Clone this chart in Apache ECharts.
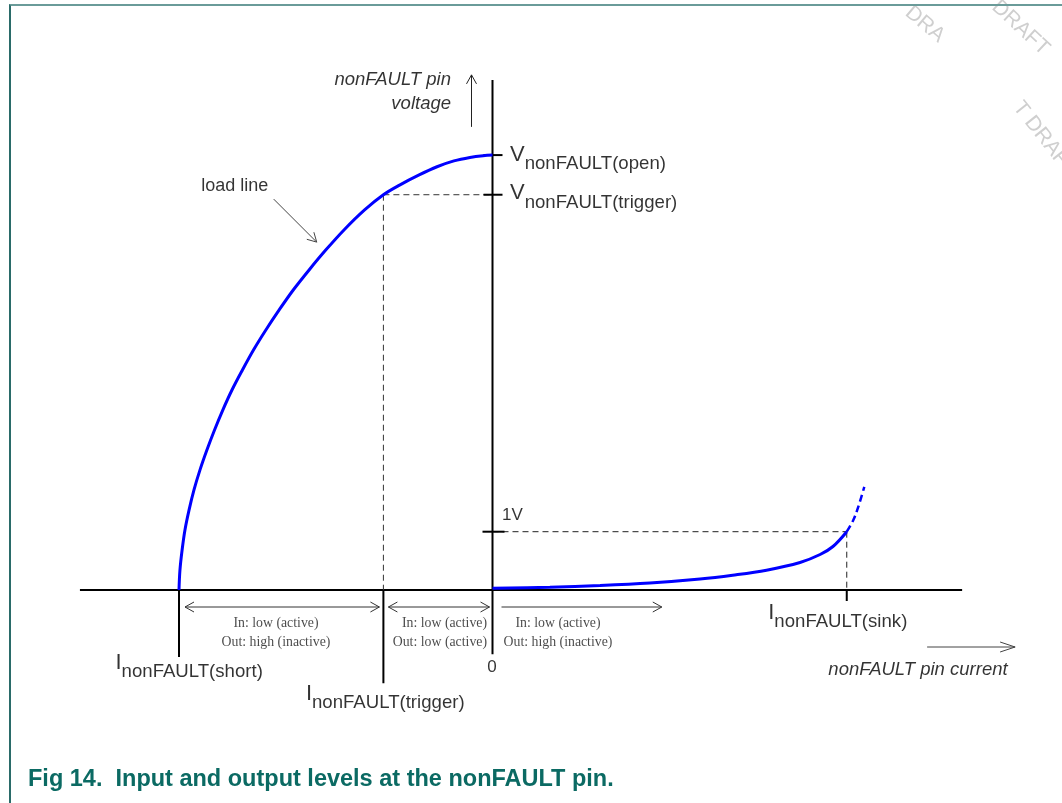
<!DOCTYPE html>
<html><head><meta charset="utf-8">
<script src="https://cdn.jsdelivr.net/npm/echarts@6/dist/echarts.min.js"></script>
<style>
html,body{margin:0;padding:0;background:#fff;}
#chart{width:1062px;height:803px;position:absolute;left:0;top:0;}
#frame{position:absolute;left:9px;top:4px;right:0;bottom:0;border-left:2px solid #2a6b69;border-top:2px solid #6a9b99;pointer-events:none;}
</style></head><body>
<div id="chart"></div><div id="frame"></div>
<script>
// ---------------- data ----------------
const xMarkLabels = ['I|nonFAULT(short)', 'I|nonFAULT(trigger)', '0', 'I|nonFAULT(sink)'];
const xMarkValues = [-10, -3.48, 0, 11.3];
const yMarkLabels = ['V|nonFAULT(open)', 'V|nonFAULT(trigger)', '1V'];
const yMarkValues = [7.46, 6.78, 1];
const loadLineCurrent = [-10, -9.97, -9.90, -9.81, -9.68, -9.52, -9.33, -9.11, -8.87, -8.60, -8.31, -7.98, -7.62, -7.23, -6.81, -6.35, -5.85, -5.32, -4.73, -4.08, -3.48, -2.95, -2.34, -1.77, -1.23, -0.72, -0.30, 0];
const loadLineVoltage = [0, 0.34, 0.69, 1.03, 1.37, 1.72, 2.06, 2.40, 2.74, 3.09, 3.43, 3.77, 4.12, 4.46, 4.80, 5.15, 5.49, 5.83, 6.18, 6.52, 6.78, 6.95, 7.12, 7.26, 7.36, 7.42, 7.45, 7.46];
const sinkCurrent = [0, 1.83, 3.43, 5.02, 6.62, 7.66, 8.74, 9.81, 10.45, 10.86, 11.30];
const sinkVoltage = [0.031, 0.048, 0.077, 0.12, 0.189, 0.254, 0.34, 0.472, 0.609, 0.746, 1.0];
const sinkExtCurrent = [11.30, 11.51, 11.67, 11.86];
const sinkExtVoltage = [1.0, 1.20, 1.43, 1.77];
const regionTexts = ['In: low (active)\nOut: high (inactive)', 'In: low (active)\nOut: low (active)', 'In: low (active)\nOut: high (inactive)'];
const regionEnd = [5.4];
const axisNames = ['nonFAULT pin\nvoltage', 'nonFAULT pin current'];
const axisExtentX = [-13.16, 14.98];
const axisExtentY = [-1.1, 8.75];
const captionText = 'Fig 14.  Input and output levels at the nonFAULT pin.';

// ---------------- helpers ----------------
const zip = (a, b) => a.map((v, i) => [v, b[i]]);
const SANS = 'Liberation Sans, Arial, sans-serif';
const SERIF = 'Liberation Serif, Times New Roman, serif';
const [I_SHORT, I_TRIG, I_ZERO, I_SINK] = xMarkValues;
const [V_OPEN, V_TRIG, V_ONE] = yMarkValues;
const PTR = 17; // load-line point the "load line" pointer refers to

function seg(points, color, width, dash, z) {
  return { type: 'line', data: points, symbol: 'none', silent: true, z: z || 2,
    lineStyle: { color: color, width: width, type: dash || 'solid', cap: 'butt' }, animation: false };
}
const DASH = [6, 4];
const segments = [
  seg([[axisExtentX[0], 0], [axisExtentX[1], 0]], '#000', 2),
  seg([[0, axisExtentY[0]], [0, axisExtentY[1]]], '#000', 2),
  seg([[I_SHORT, 0], [I_SHORT, -1.15]], '#000', 2),
  seg([[I_TRIG, 0], [I_TRIG, -1.6]], '#000', 2),
  seg([[I_SINK, 0], [I_SINK, -0.19]], '#000', 2),
  seg([[I_TRIG, V_TRIG], [I_TRIG, 0]], '#333', 1, DASH),
  seg([[I_TRIG, V_TRIG], [0, V_TRIG]], '#333', 1, DASH),
  seg([[0, V_ONE], [I_SINK, V_ONE]], '#222', 1, DASH),
  seg([[I_SINK, V_ONE], [I_SINK, 0]], '#222', 1, DASH)
];

// arrows & ticks (pixel offsets applied to data anchors)
const ptrPoint = [loadLineCurrent[PTR], loadLineVoltage[PTR]];
const arrowSpecs = [
  { a: [I_SHORT, 0], b: [I_TRIG, 0], off: [6, 17, -4, 17], heads: [1, 1], len: 9, half: 5, color: '#333', width: 1 },
  { a: [I_TRIG, 0], b: [0, 0], off: [5, 17, -3, 17], heads: [1, 1], len: 9, half: 5, color: '#333', width: 1 },
  { a: [0, 0], b: [regionEnd[0], 0], off: [9, 17, 0, 17], heads: [0, 1], len: 9, half: 5, color: '#333', width: 1 },
  { a: [0, axisExtentY[1]], b: [0, axisExtentY[1]], off: [-21, 47, -21, -5], heads: [0, 1], len: 9, half: 5, color: '#222', width: 1 },
  { a: [axisExtentX[1], 0], b: [axisExtentX[1], 0], off: [-35, 57, 53, 57], heads: [0, 1], len: 15, half: 5, color: '#444', width: 1 },
  { a: ptrPoint, b: ptrPoint, off: [-52, -51, -9, -8], heads: [0, 1], len: 9, half: 5, color: '#444', width: 1 },
  { a: [0, V_OPEN], b: [0, V_OPEN], off: [-9, 0, 10, 0], heads: [0, 0], color: '#000', width: 2 },
  { a: [0, V_TRIG], b: [0, V_TRIG], off: [-9, 0, 10, 0], heads: [0, 0], color: '#000', width: 2 },
  { a: [0, V_ONE], b: [0, V_ONE], off: [-10, 0, 12, 0], heads: [0, 0], color: '#000', width: 2 }
];

function renderArrow(params, api) {
  const s = arrowSpecs[params.dataIndex];
  const p1 = api.coord([api.value(0), api.value(1)]);
  const p2 = api.coord([api.value(2), api.value(3)]);
  const a = [p1[0] + s.off[0], p1[1] + s.off[1]];
  const b = [p2[0] + s.off[2], p2[1] + s.off[3]];
  const style = { stroke: s.color, lineWidth: s.width, fill: null };
  const children = [{ type: 'line', shape: { x1: a[0], y1: a[1], x2: b[0], y2: b[1] }, style: style }];
  const dx = b[0] - a[0], dy = b[1] - a[1], L = Math.hypot(dx, dy) || 1;
  const ux = dx / L, uy = dy / L, nx = -uy, ny = ux;
  function head(p, dir) {
    const bx = p[0] - dir * ux * s.len, by = p[1] - dir * uy * s.len;
    return { type: 'polyline', shape: { points: [[bx + nx * s.half, by + ny * s.half], p, [bx - nx * s.half, by - ny * s.half]] }, style: style };
  }
  if (s.heads[0]) children.push(head(a, -1));
  if (s.heads[1]) children.push(head(b, 1));
  return { type: 'group', children: children };
}

// labels
function subLabel(text) {
  const parts = text.split('|');
  return parts.length > 1 ? '{m|' + parts[0] + '}{s|' + parts[1] + '}' : text;
}
const richSub = {
  m: { fontSize: 22, lineHeight: 22, verticalAlign: 'top', fontFamily: SANS, color: '#000' },
  s: { fontSize: 18.6, lineHeight: 41, fontFamily: SANS, color: '#000' }
};
function lbl(value, text, opts) {
  return { value: value, label: Object.assign({ show: true, formatter: text, color: '#000', fontFamily: SANS, rich: richSub }, opts) };
}
const xLabelOffsets = [[-63, 62, 'left', 'top'], [-77, 93, 'left', 'top'], [0, 78, 'center', 'middle'], [-78, 12, 'left', 'top']];
const yLabelOffsets = [[18, -11, 'left', 'top'], [18, -12, 'left', 'top'], [10, -16, 'left', 'middle']];
const labelData = [];
xMarkValues.forEach((v, i) => {
  const o = xLabelOffsets[i];
  labelData.push(lbl([v, 0], subLabel(xMarkLabels[i]), { position: [o[0], o[1]], align: o[2], verticalAlign: o[3], fontSize: 17 }));
});
yMarkValues.forEach((v, i) => {
  const o = yLabelOffsets[i];
  labelData.push(lbl([0, v], subLabel(yMarkLabels[i]), { position: [o[0], o[1]], align: o[2], verticalAlign: o[3], fontSize: 17 }));
});
const regionAnchors = [[-216, 'center'], [-5, 'right'], [66, 'center']];
regionTexts.forEach((t, i) => {
  labelData.push(lbl([0, 0], t, { position: [regionAnchors[i][0], 24], align: regionAnchors[i][1], verticalAlign: 'top', fontFamily: SERIF, fontSize: 13.8, lineHeight: 19, color: '#1a1a1a' }));
});
labelData.push(lbl([0, axisExtentY[1]], axisNames[0], { position: [-41, -12], align: 'right', verticalAlign: 'top', fontStyle: 'italic', fontSize: 18.5, lineHeight: 24 }));
labelData.push(lbl([axisExtentX[1], 0], axisNames[1], { position: [46, 80], align: 'right', verticalAlign: 'middle', fontStyle: 'italic', fontSize: 18.5 }));
labelData.push(lbl(ptrPoint, 'load line', { position: [-124, -64], align: 'left', verticalAlign: 'middle', fontSize: 18 }));

const chart = echarts.init(document.getElementById('chart'), null, { renderer: 'canvas' });
const option = {
  animation: false,
  backgroundColor: '#fff',
  title: { text: captionText, left: 28, top: 768, padding: 0,
    textStyle: { fontFamily: SANS, fontWeight: 'bold', fontSize: 23.5, color: '#0b6a63' } },
  grid: { left: 53.6, top: 65.3, width: 971.85, height: 641.3, outerBoundsMode: 'none', containLabel: false },
  xAxis: { type: 'value', min: -14, max: 17, show: false },
  yAxis: { type: 'value', min: -2, max: 9, show: false },
  graphic: [
    { type: 'text', x: 908, y: 10, rotation: -0.7, style: { text: 'DRA', fill: '#cfcfcf', font: '21px Liberation Sans', verticalAlign: 'middle' }, z: 0 },
    { type: 'text', x: 995, y: 4, rotation: -0.75, style: { text: 'DRAFT', fill: '#cfcfcf', font: '21px Liberation Sans', verticalAlign: 'middle' }, z: 0 },
    { type: 'text', x: 1017, y: 104, rotation: -0.9, style: { text: 'T DRAFT', fill: '#cfcfcf', font: '21px Liberation Sans', verticalAlign: 'middle' }, z: 0 }
  ],
  series: segments.concat([
    { type: 'custom', renderItem: renderArrow, clip: false, silent: true, z: 3,
      data: arrowSpecs.map(s => [s.a[0], s.a[1], s.b[0], s.b[1]]), encode: { x: [0, 2], y: [1, 3] } },
    { type: 'line', name: 'load line', data: zip(loadLineCurrent, loadLineVoltage), smooth: 0.35, symbol: 'none', z: 5,
      lineStyle: { color: '#0000ff', width: 3 } },
    { type: 'line', name: 'sink', data: zip(sinkCurrent, sinkVoltage), smooth: 0.35, symbol: 'none', z: 5,
      lineStyle: { color: '#0000ff', width: 3 } },
    { type: 'line', name: 'sink ext', data: zip(sinkExtCurrent, sinkExtVoltage), smooth: 0.35, symbol: 'none', z: 5,
      lineStyle: { color: '#0000ff', width: 2.5, type: [7, 4] } },
    { type: 'scatter', data: labelData, symbolSize: 1, itemStyle: { color: 'rgba(0,0,0,0)' }, silent: true, z: 6 }
  ])
};
chart.setOption(option);
</script>
</body></html>
